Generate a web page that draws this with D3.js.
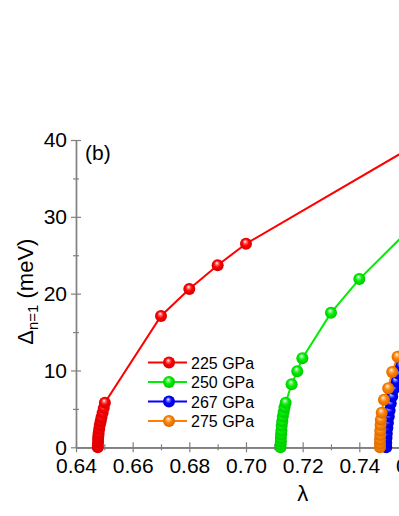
<!DOCTYPE html>
<html>
<head>
<meta charset="utf-8">
<script src="https://cdn.jsdelivr.net/npm/d3@7/dist/d3.min.js"></script>
<style>
html,body{margin:0;padding:0;background:#fff;overflow:hidden;width:399px;height:516px;}
svg{display:block;font-family:"Liberation Sans",Arial,sans-serif;}
</style>
</head>
<body>
<script>
// ---- data ----
const seriesNames = ["225 GPa", "250 GPa", "267 GPa", "275 GPa"];
const seriesColors = ["#ff0000", "#00ee00", "#0000ff", "#ff8000"];
const data225 = [[0.6477,0],[0.6477,0.3],[0.6478,0.7],[0.6478,1.1],[0.6479,1.5],[0.6480,1.9],[0.6482,2.4],[0.6484,2.9],[0.6487,3.4],[0.6490,3.9],[0.6494,4.5],[0.6498,5.1],[0.6502,5.8],[0.670,17.1],[0.680,20.6],[0.690,23.7],[0.700,26.5],[0.760,39.4]];
const data250 = [[0.7122,0],[0.7122,0.4],[0.7123,0.8],[0.7123,1.2],[0.7124,1.7],[0.7125,2.2],[0.7126,2.8],[0.7128,3.4],[0.7130,4.0],[0.7133,4.6],[0.7136,5.2],[0.7140,5.8],[0.7161,8.2],[0.7181,9.9],[0.7199,11.6],[0.730,17.5],[0.740,21.9],[0.760,29.2]];
const data267 = [[0.7495,0],[0.7495,0.6],[0.7496,1.2],[0.7497,1.8],[0.7499,2.5],[0.7501,3.2],[0.7504,4.0],[0.7507,4.8],[0.7511,5.7],[0.7516,6.6],[0.7522,7.6],[0.7529,8.6],[0.7537,9.6],[0.7546,10.6],[0.758,13.0],[0.765,16.0]];
const data275 = [[0.7473,0],[0.7473,0.5],[0.7473,1.0],[0.7474,1.6],[0.7474,2.2],[0.7475,2.9],[0.7476,3.6],[0.7479,4.5],[0.7487,6.2],[0.7502,7.7],[0.7516,9.8],[0.7535,11.8],[0.7565,14.5],[0.762,17.5]];
const allSeries = [data225, data250, data267, data275];
const xMajor = [0.64, 0.66, 0.68, 0.70, 0.72, 0.74, 0.76, 0.78, 0.80];
const xMinor = [0.65, 0.67, 0.69, 0.71, 0.73, 0.75, 0.77, 0.79];
const yMajor = [0, 10, 20, 30, 40];
const yMinor = [5, 15, 25, 35];
const panelLabel = "(b)";
const xTitle = "λ";

// ---- layout ----
const W = 560, H = 516;
const svg = d3.select("body").append("svg").attr("width", W).attr("height", H);
const x = d3.scaleLinear().domain([0.64, 0.80]).range([76, 529.3]);
const y = d3.scaleLinear().domain([0, 40]).range([447.3, 140]);
const axisColor = "#808080";

// gradients for sphere markers
const defs = svg.append("defs");
seriesColors.forEach((c, i) => {
  const g = defs.append("radialGradient").attr("id", "ball" + i)
    .attr("cx", "50%").attr("cy", "50%").attr("r", "55%")
    .attr("fx", "42%").attr("fy", "30%");
  const base = d3.color(c);
  g.append("stop").attr("offset", "0%").attr("stop-color", "#ffffff");
  g.append("stop").attr("offset", "22%").attr("stop-color", d3.interpolateRgb("#ffffff", c)(0.55));
  g.append("stop").attr("offset", "50%").attr("stop-color", c);
  g.append("stop").attr("offset", "100%").attr("stop-color", base.darker(0.6).formatHex());
});

// axes
function styleAxis(g) {
  g.select(".domain").attr("stroke", axisColor).attr("stroke-width", 1.2);
  g.selectAll(".tick line").attr("stroke", axisColor).attr("stroke-width", 1.2);
  g.selectAll(".tick text").attr("fill", "#000").attr("font-size", 21)
    .attr("font-family", "'Liberation Sans', Arial, sans-serif");
}
const gx = svg.append("g").attr("transform", `translate(0,${y(0)})`);
gx.call(d3.axisBottom(x).tickValues(xMajor).tickFormat(d3.format(".2f")).tickSizeInner(5).tickSizeOuter(0).tickPadding(6)).call(styleAxis);
svg.append("g").attr("transform", `translate(0,${y(0)})`)
  .call(d3.axisBottom(x).tickValues(xMajor).tickFormat("").tickSizeInner(-5).tickSizeOuter(0)).call(styleAxis);
svg.append("g").attr("transform", `translate(0,${y(0)})`)
  .call(d3.axisBottom(x).tickValues(xMinor).tickFormat("").tickSizeInner(3).tickSizeOuter(0)).call(styleAxis);
svg.append("g").attr("transform", `translate(0,${y(0)})`)
  .call(d3.axisBottom(x).tickValues(xMinor).tickFormat("").tickSizeInner(-3).tickSizeOuter(0)).call(styleAxis);

const gy = svg.append("g").attr("transform", `translate(${x(0.64)},0)`);
gy.call(d3.axisLeft(y).tickValues(yMajor).tickFormat(d3.format("d")).tickSizeInner(5).tickSizeOuter(0).tickPadding(4)).call(styleAxis);
svg.append("g").attr("transform", `translate(${x(0.64)},0)`)
  .call(d3.axisLeft(y).tickValues(yMajor).tickFormat("").tickSizeInner(-5).tickSizeOuter(0)).call(styleAxis);
svg.append("g").attr("transform", `translate(${x(0.64)},0)`)
  .call(d3.axisLeft(y).tickValues(yMinor).tickFormat("").tickSizeInner(3).tickSizeOuter(0)).call(styleAxis);
svg.append("g").attr("transform", `translate(${x(0.64)},0)`)
  .call(d3.axisLeft(y).tickValues(yMinor).tickFormat("").tickSizeInner(-3).tickSizeOuter(0)).call(styleAxis);

// axis titles
svg.append("text").attr("x", x(0.72)).attr("y", 501).attr("text-anchor", "middle")
  .attr("font-size", 22).attr("fill", "#000").text(xTitle);
const yt = svg.append("text").attr("transform", `translate(33,${(y(0) + y(40)) / 2 - 2}) rotate(-90)`)
  .attr("text-anchor", "middle").attr("font-size", 22).attr("fill", "#000");
yt.append("tspan").text("Δ");
yt.append("tspan").attr("font-size", 15).attr("dy", 5).text("n=1");
yt.append("tspan").attr("dy", -5).text(" (meV)");

svg.append("text").attr("x", 85).attr("y", 160).attr("font-size", 21).attr("fill", "#000").text(panelLabel);

// series
const line = d3.line().x(d => x(d[0])).y(d => y(d[1]));
allSeries.forEach((s, i) => {
  const g = svg.append("g");
  g.append("path").datum(s).attr("d", line).attr("fill", "none")
    .attr("stroke", seriesColors[i]).attr("stroke-width", 2);
  g.selectAll("circle").data(s).join("circle")
    .attr("cx", d => x(d[0])).attr("cy", d => y(d[1])).attr("r", 6)
    .attr("fill", `url(#ball${i})`);
});

// legend
const legY = [362.5, 382, 401.5, 421];
seriesNames.forEach((name, i) => {
  const g = svg.append("g").attr("transform", `translate(0,${legY[i]})`);
  g.append("line").attr("x1", 148).attr("x2", 187).attr("y1", 0).attr("y2", 0)
    .attr("stroke", seriesColors[i]).attr("stroke-width", 2);
  g.append("circle").attr("cx", 169).attr("cy", 0).attr("r", 6).attr("fill", `url(#ball${i})`);
  g.append("text").attr("x", 191).attr("y", 6).attr("font-size", 16).attr("fill", "#000").text(name);
});
</script>
</body>
</html>
